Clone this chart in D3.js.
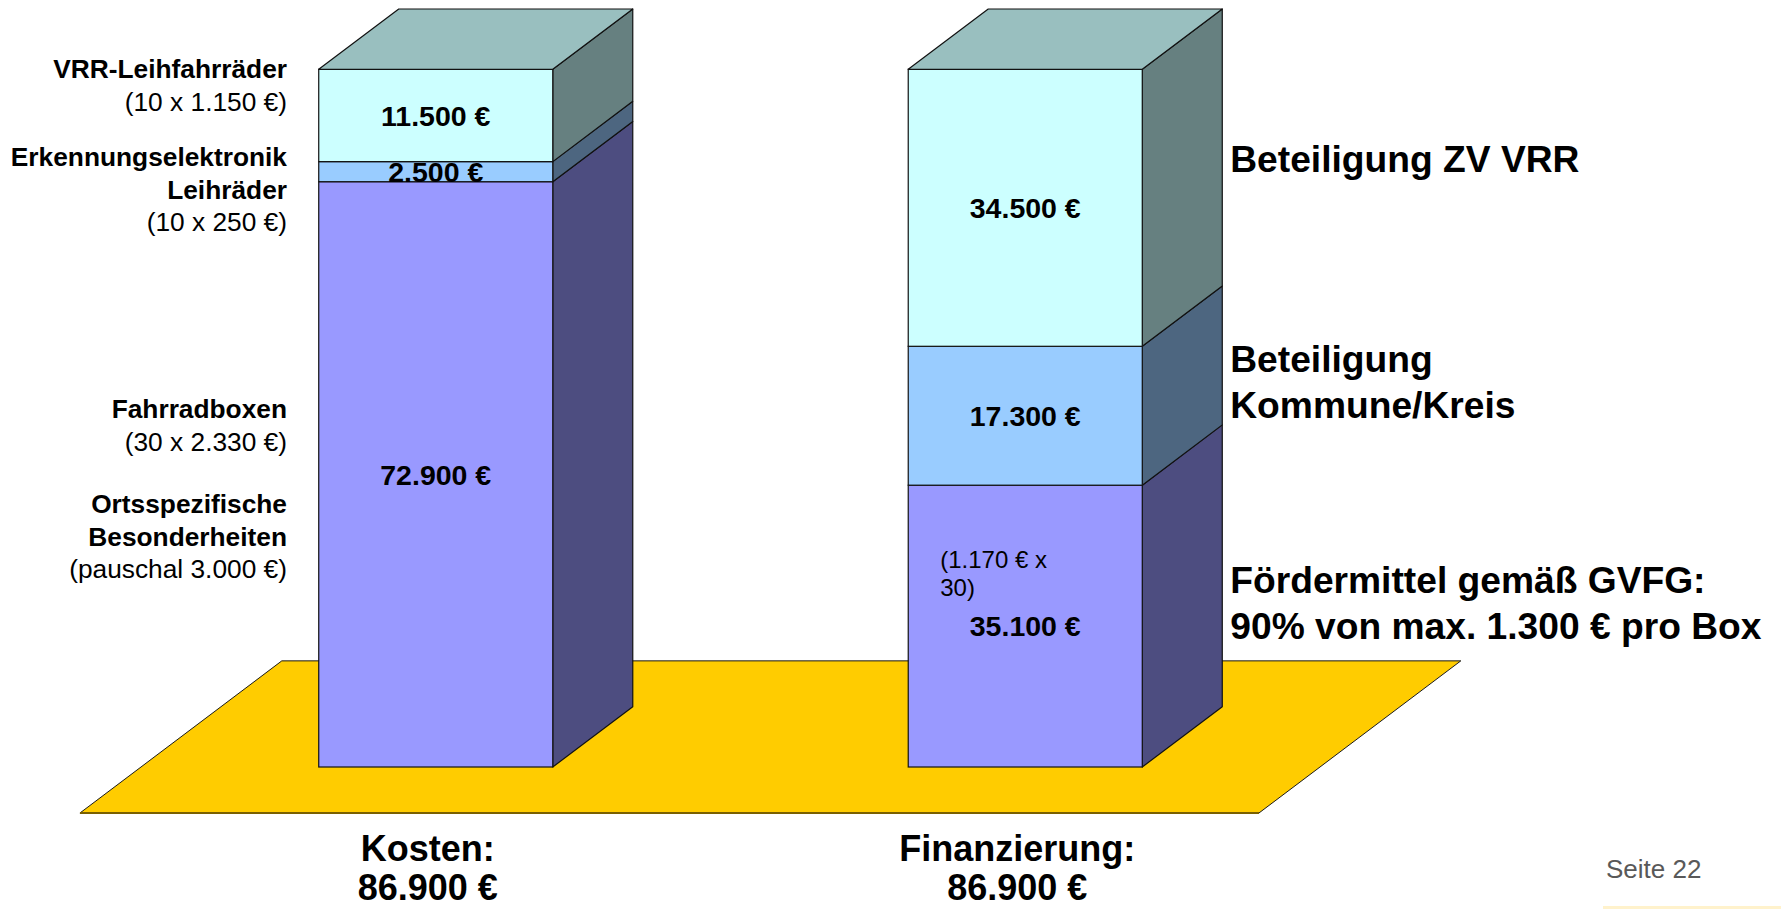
<!DOCTYPE html>
<html>
<head>
<meta charset="utf-8">
<script src="https://cdn.jsdelivr.net/npm/d3@7"></script>
<style>
  body { margin: 0; background: #fff; }
  svg { display: block; font-family: "Liberation Sans", Arial, sans-serif; }
</style>
</head>
<body>
<svg id="chart" width="1781" height="909"></svg>
<script>
// The two stacked bars, parts listed bottom to top
var categories = ["Kosten", "Finanzierung"];
var kostenValues = [72900, 2500, 11500];
var finanzValues = [35100, 17300, 34500];
var partColors = ["#9999FF", "#99CCFF", "#CCFFFF"];

// notes next to the bars (bold lines first, the bracket line is plain)
var kostenNotes = [
  [["VRR-Leihfahrräder", true], ["(10 x 1.150 €)", false]],
  [["Erkennungselektronik", true], ["Leihräder", true], ["(10 x 250 €)", false]],
  [["Fahrradboxen", true], ["(30 x 2.330 €)", false]],
  [["Ortsspezifische", true], ["Besonderheiten", true], ["(pauschal 3.000 €)", false]]
];
var finanzNotes = [
  ["Beteiligung ZV VRR"],
  ["Beteiligung", "Kommune/Kreis"],
  ["Fördermittel gemäß GVFG:", "90% von max. 1.300 € pro Box"]
];
var boxNote = ["(1.170 € x", "30)"];
var pageLabel = "Seite 22";

var svg = d3.select("#chart");

// german money format: 72.900 €
var euro = d3.formatLocale({decimal: ",", thousands: ".", grouping: [3], currency: ["", " €"]})
  .format("$,.0f");

var keys = ["p0", "p1", "p2"];
var table = categories.map(function(c, i) {
  var v = i === 0 ? kostenValues : finanzValues;
  return {cat: c, p0: v[0], p1: v[1], p2: v[2]};
});
var series = d3.stack().keys(keys)(table);
var totals = table.map(function(d) { return d.p0 + d.p1 + d.p2; });

var x = d3.scaleBand().domain(categories)
  .range([141, 1320])
  .paddingInner(0.603)
  .paddingOuter(0.3015);
var y = d3.scaleLinear().domain([0, d3.max(totals)]).range([767, 69.3]);

// oblique depth of one bar
var dX = 80, dY = 60.3;
function back(p, t) { return [p[0] + t * dX, p[1] - t * dY]; }
function shade(c, k) {
  var r = d3.rgb(c);
  return d3.rgb(r.r * k, r.g * k, r.b * k).formatHex();
}
var line = d3.line();

// floor plate
var base = y(0), fx0 = x.range()[0], fx1 = x.range()[1];
var floor = [
  back([fx0, base], -0.763), back([fx1, base], -0.763),
  back([fx1, base], 1.76), back([fx0, base], 1.76)
];
svg.append("path")
  .attr("d", line(floor) + "Z")
  .attr("fill", "#FFCC00")
  .attr("stroke", "#1a1a1a")
  .attr("stroke-width", 1);
svg.append("path")
  .attr("d", line([floor[0], floor[1]]))
  .attr("stroke", "#7a6000")
  .attr("stroke-width", 2);

// bars
var bw = x.bandwidth();
series.forEach(function(s, k) {
  var g = svg.append("g").attr("class", "part-" + k);
  s.forEach(function(d) {
    var x0 = x(d.data.cat), x1 = x0 + bw;
    var yb = y(d[0]), yt = y(d[1]);
    // side face
    g.append("path")
      .attr("d", line([[x1, yb], [x1, yt], back([x1, yt], 1), back([x1, yb], 1)]) + "Z")
      .attr("fill", shade(partColors[k], 0.5))
      .attr("stroke", "#111")
      .attr("stroke-width", 1.2)
      .attr("stroke-linejoin", "round");
    // front face
    g.append("rect")
      .attr("x", x0).attr("y", yt)
      .attr("width", bw).attr("height", yb - yt)
      .attr("fill", partColors[k])
      .attr("stroke", "#111")
      .attr("stroke-width", 1.2);
    // lid on the top part
    if (k === keys.length - 1) {
      g.append("path")
        .attr("d", line([[x0, yt], [x1, yt], back([x1, yt], 1), back([x0, yt], 1)]) + "Z")
        .attr("fill", shade(partColors[k], 0.75))
        .attr("stroke", "#111")
        .attr("stroke-width", 1.2)
        .attr("stroke-linejoin", "round");
    }
    g.append("text")
      .attr("x", x0 + bw / 2)
      .attr("y", (yb + yt) / 2)
      .attr("dy", "0.36em")
      .attr("text-anchor", "middle")
      .attr("font-weight", "bold")
      .attr("font-size", 28.5)
      .text(euro(d.data[keys[k]]));
  });
});

// note inside lower financing part
var fin = x("Finanzierung");
svg.append("g").selectAll("text")
  .data(boxNote).join("text")
  .attr("x", fin + 32)
  .attr("y", function(d, i) { return 559 + i * 28.5; })
  .attr("dy", "0.36em")
  .attr("font-size", 24)
  .text(function(d) { return d; });

// left notes, right aligned
var leftX = 287, leftTops = [69, 157, 409, 504], lh = 32.3;
kostenNotes.forEach(function(lines, gi) {
  svg.append("g").selectAll("text")
    .data(lines).join("text")
    .attr("x", leftX)
    .attr("y", function(d, i) { return leftTops[gi] + i * lh; })
    .attr("dy", "0.36em")
    .attr("text-anchor", "end")
    .attr("font-size", 26.3)
    .attr("font-weight", function(d) { return d[1] ? "bold" : "normal"; })
    .text(function(d) { return d[0]; });
});

// right notes
var rightX = fin + bw + dX + 8, rightTops = [159, 359, 580], rh = 45.5;
finanzNotes.forEach(function(lines, gi) {
  svg.append("g").selectAll("text")
    .data(lines).join("text")
    .attr("x", rightX)
    .attr("y", function(d, i) { return rightTops[gi] + i * rh; })
    .attr("dy", "0.36em")
    .attr("font-size", 37.2)
    .attr("font-weight", "bold")
    .text(function(d) { return d; });
});

// category titles with totals (second line kept inside the page)
categories.forEach(function(c, i) {
  svg.append("g").selectAll("text")
    .data([c + ":", euro(totals[i])]).join("text")
    .attr("x", x(c) + bw / 2 - 8)
    .attr("y", function(d, j) { return 848 + j * 39; })
    .attr("dy", "0.36em")
    .attr("text-anchor", "middle")
    .attr("font-size", 36)
    .attr("font-weight", "bold")
    .text(function(d) { return d; });
});

// page footer
svg.append("text")
  .attr("x", 1606).attr("y", 877.7)
  .attr("font-size", 26)
  .attr("fill", "#595959")
  .text(pageLabel);
svg.append("rect")
  .attr("x", 1603).attr("y", 906)
  .attr("width", 178).attr("height", 3)
  .attr("fill", "#FFF2CC");
</script>
</body>
</html>
